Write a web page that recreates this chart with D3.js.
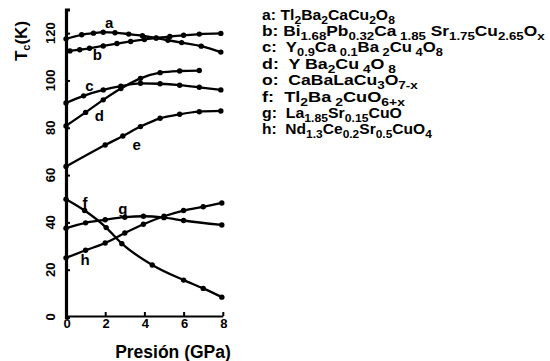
<!DOCTYPE html>
<html>
<head>
<meta charset="utf-8">
<script src="https://cdn.jsdelivr.net/npm/d3@7"></script>
<style>
  html, body { margin: 0; padding: 0; background: #fff; }
  svg { display: block; }
  text { font-family: "Liberation Sans", Arial, sans-serif; fill: #000; }
</style>
</head>
<body>
<svg id="chart" width="550" height="361"></svg>
<script>
// Tc versus pressure for several cuprate superconductors
const xTicks = [0, 2, 4, 6, 8];
const yTicks = [0, 20, 40, 60, 80, 100, 120];

const seriesKeys = ["a", "b", "c", "d", "e", "f", "g", "h"];

const pressA = [0, 0.8, 1.4, 1.9, 2.5, 3.2, 3.9, 4.6, 5.2, 5.9, 6.9, 7.9];
const tcA    = [117.6, 119.3, 120.0, 120.4, 120.2, 119.6, 118.9, 117.9, 117.0, 116.0, 114.5, 112.0];

const pressB = [0.2, 0.7, 1.2, 1.9, 2.6, 3.3, 4.0, 4.6, 5.3, 6.0, 6.8, 7.9];
const tcB    = [112.5, 113.0, 113.6, 114.6, 115.6, 116.5, 117.3, 118.0, 118.6, 119.1, 119.6, 119.9];

const pressC = [0, 0.9, 1.9, 2.8, 3.8, 4.8, 5.8, 6.8, 7.9];
const tcC    = [90.5, 93.5, 96.0, 97.6, 98.8, 98.6, 98.0, 97.1, 96.0];

const pressD = [0, 1.0, 1.9, 2.8, 3.8, 4.8, 5.8, 6.8];
const tcD    = [80.8, 86.5, 91.8, 96.6, 100.9, 103.3, 104.0, 104.2];

const pressE = [0, 2.0, 2.9, 3.8, 4.8, 5.8, 6.8, 7.9];
const tcE    = [63.6, 72.7, 76.5, 80.5, 84.0, 85.7, 86.8, 87.1];

const pressF = [0, 0.95, 2.05, 2.85, 4.4, 6.0, 7.0, 7.95];
const tcF    = [49.8, 45.0, 37.8, 31.0, 22.0, 15.6, 12.1, 8.4];

const pressG = [0, 1.0, 2.0, 3.0, 3.95, 5.0, 6.0, 7.95];
const tcG    = [37.5, 39.8, 41.1, 42.2, 42.6, 42.0, 40.8, 38.9];

const pressH = [0, 1.0, 2.0, 3.0, 3.95, 5.0, 6.0, 7.0, 7.95];
const tcH    = [25.0, 28.2, 31.3, 35.5, 39.2, 42.6, 45.0, 46.6, 48.2];

// curve tags written beside each curve: [pressure, Tc] anchor
const tagText = ["a", "b", "c", "d", "e", "f", "g", "h"];
const tagPress = [2.2, 1.6, 1.2, 1.7, 3.6, 0.97, 2.9, 0.97];
const tagTc    = [124.5, 110.8, 98.0, 85.0, 73.1, 48.3, 45.7, 24.1];

// legend lines; _{...} marks a subscript
const legendKeys = ["a:", "b:", "c:", "d:", "o:", "f:", "g:", "h:"];
const legendFormulas = [
  "Tl_{2}Ba_{2}CaCu_{2}O_{8}",
  "Bi_{1.68}Pb_{0.32}Ca_{ 1.85} Sr_{1.75}Cu_{2.65}O_{x}",
  " Y_{0.9}Ca_{ 0.1}Ba_{ 2}Cu_{ 4}O_{8}",
  " Y Ba_{2}Cu_{ 4}O_{ 8}",
  " CaBaLaCu_{3}O_{7-x}",
  " Tl_{2}Ba_{ 2}CuO_{6+x}",
  " La_{1.85}Sr_{0.15}CuO",
  " Nd_{1.3}Ce_{0.2}Sr_{0.5}CuO_{4}"
];
// printed width of each legend line
const legendWidths = [133, 283, 181, 134, 156, 143, 140, 170];

const pressures = [pressA, pressB, pressC, pressD, pressE, pressF, pressG, pressH];
const tcs = [tcA, tcB, tcC, tcD, tcE, tcF, tcG, tcH];

const svg = d3.select("#chart");

const x = d3.scaleLinear().domain([0, 8]).range([66, 222.8]);
const y = d3.scaleLinear().domain([0, 130]).range([317, 9.5]);

// axes with short inward ticks
const yAxis = svg.append("g")
  .attr("transform", `translate(${x(0)},0)`)
  .call(d3.axisLeft(y).tickValues(yTicks).tickSize(-4).tickFormat(""));
yAxis.select(".domain").attr("stroke", "#000").attr("stroke-width", 3.2);
yAxis.selectAll(".tick line").attr("stroke", "#000").attr("stroke-width", 2);

const xAxis = svg.append("g")
  .attr("transform", `translate(0,${y(0) - 1})`)
  .call(d3.axisBottom(x).tickValues(xTicks).tickSize(-4).tickFormat("").tickSizeOuter(0));
xAxis.select(".domain").attr("stroke", "#000").attr("stroke-width", 2.2);
xAxis.selectAll(".tick line").attr("stroke", "#000").attr("stroke-width", 2);

// tick labels
svg.append("g").selectAll("text")
  .data(yTicks)
  .join("text")
  .attr("transform", d => `translate(50,${y(d)}) rotate(-90)`)
  .attr("text-anchor", "middle")
  .attr("dominant-baseline", "central")
  .attr("font-size", 13)
  .attr("font-weight", "bold")
  .text(d => d);

svg.append("g").selectAll("text")
  .data(xTicks)
  .join("text")
  .attr("x", d => x(d) + 1)
  .attr("y", 328)
  .attr("text-anchor", "middle")
  .attr("font-size", 13)
  .attr("font-weight", "bold")
  .text(d => d);

// axis titles
svg.append("text")
  .attr("x", 173)
  .attr("y", 358)
  .attr("text-anchor", "middle")
  .attr("font-size", 17.5)
  .attr("font-weight", "bold")
  .text("Presión (GPa)");

const yTitle = svg.append("text")
  .attr("transform", "translate(27,41) rotate(-90)")
  .attr("text-anchor", "middle")
  .attr("font-size", 17)
  .attr("font-weight", "bold");
yTitle.append("tspan").text("T");
yTitle.append("tspan").attr("font-size", 11).attr("dy", 3).text("c");
yTitle.append("tspan").attr("dy", -3).text("(K)");

// curves and their measured points
const line = d3.line()
  .x(d => x(d[0]))
  .y(d => y(d[1]))
  .curve(d3.curveMonotoneX);

seriesKeys.forEach((key, i) => {
  const pts = pressures[i].map((p, j) => [p, tcs[i][j]]);
  const g = svg.append("g").attr("class", "series-" + key);
  g.append("path")
    .datum(pts)
    .attr("d", line)
    .attr("fill", "none")
    .attr("stroke", "#000")
    .attr("stroke-width", 2.3);
  g.selectAll("circle")
    .data(pts)
    .join("circle")
    .attr("cx", d => x(d[0]))
    .attr("cy", d => y(d[1]))
    .attr("r", 2.7)
    .attr("fill", "#000");
});

// curve tags
svg.append("g").selectAll("text")
  .data(tagText)
  .join("text")
  .attr("x", (d, i) => x(tagPress[i]))
  .attr("y", (d, i) => y(tagTc[i]))
  .attr("text-anchor", "middle")
  .attr("dominant-baseline", "central")
  .attr("font-size", 15)
  .attr("font-weight", "bold")
  .text(d => d);

// legend
function addFormula(sel, str) {
  const parts = str.split(/(_\{[^}]*\})/).filter(s => s.length);
  let shifted = false;
  parts.forEach(p => {
    if (p.startsWith("_{")) {
      sel.append("tspan")
        .attr("font-size", 11.5)
        .attr("dy", shifted ? 0 : 4)
        .text(p.slice(2, -1));
      shifted = true;
    } else {
      sel.append("tspan")
        .attr("dy", shifted ? -4 : 0)
        .text(p);
      shifted = false;
    }
  });
}

const legend = svg.append("g");
legendKeys.forEach((k, i) => {
  const row = legend.append("g");
  const t = row.append("text")
    .attr("x", 0)
    .attr("y", 0)
    .attr("font-size", 15)
    .attr("font-weight", "bold")
    .style("white-space", "pre");
  t.append("tspan").text(k + " ");
  addFormula(t, legendFormulas[i]);
  const natural = t.node().getComputedTextLength();
  const sx = legendWidths[i] / natural;
  row.attr("transform", `translate(262,${19.5 + i * 16.4}) scale(${sx},1)`);
});
</script>
</body>
</html>
